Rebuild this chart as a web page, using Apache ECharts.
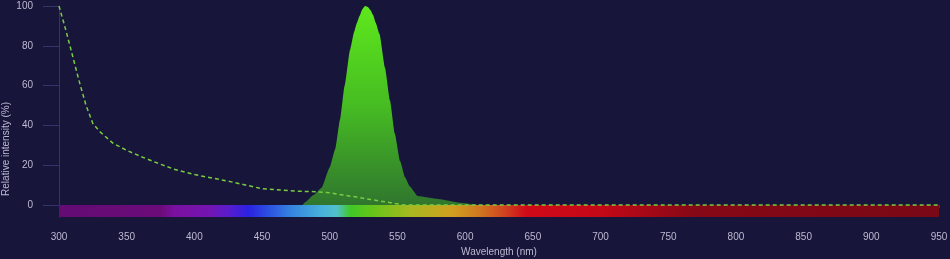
<!DOCTYPE html>
<html>
<head>
<meta charset="utf-8">
<script src="https://cdn.jsdelivr.net/npm/echarts@6/dist/echarts.min.js"></script>
<style>
html,body{margin:0;padding:0;background:#17153a;}
#c{width:950px;height:259px;}
</style>
</head>
<body>
<div id="c"></div>
<script>
// Emission spectrum (filled green peak)
const emissionWl  = [480, 482, 488, 494, 500, 504, 507.6, 511, 515, 518, 520, 522, 524, 526, 528, 530, 532, 534, 536.7, 540.8, 544.5, 548, 552, 555.6, 559, 565, 580, 596, 610];
const emissionVal = [0, 1.5, 5, 8.7, 19, 28, 43, 60, 78, 87, 91.5, 95, 98.3, 100, 99.6, 98, 95.5, 91.5, 86, 69, 52.5, 36, 22, 14, 9.5, 4.5, 3, 1.2, 0];

// Excitation spectrum (dashed line)
const excitationWl  = [300, 305, 310, 315, 320, 325, 330, 340, 350, 360, 375, 385, 400, 425, 450, 475, 490, 500, 510, 520, 530, 545, 555, 950];
const excitationVal = [100, 88, 75, 62, 50, 41, 37, 31, 27.5, 24.5, 20.5, 18, 15.3, 12, 8.2, 7, 6.7, 6.2, 5, 4, 2.8, 1.2, 0, 0];

// Axis ticks
const xTicks = [300, 350, 400, 450, 500, 550, 600, 650, 700, 750, 800, 850, 900, 950];
const yTicks = [0, 20, 40, 60, 80, 100];

// Visible spectrum band: wavelength anchors
const bandWl = [300, 375, 385, 410, 425, 440, 452, 470, 495, 505, 515, 530, 560, 590, 612, 630, 645, 700, 770, 950];
const bandColors = ['#640b74','#6b0b7a','#7a10a0','#7414b0','#5a1ccc','#2a22e0','#2a48e2','#3480e0','#48b4da','#52c0cc','#40c828','#62c61a','#a8b820','#d0a020','#d07420','#d04020','#d00a18','#c40818','#860816','#7a0816'];

const X_MIN = 300, X_MAX = 950;

const pair = (xs, ys) => xs.map((x, i) => [x, ys[i]]);

const chart = echarts.init(document.getElementById('c'), null, {renderer: 'canvas'});
const labelColor = '#bcbad2';
const axisColor = '#35336c';

chart.setOption({
  backgroundColor: '#17153a',
  animation: false,
  grid: {left: 59, right: 11, top: 6, bottom: 42, containLabel: false, outerBoundsMode: 'none'},
  xAxis: {
    type: 'value', min: X_MIN, max: X_MAX, interval: 50,
    name: 'Wavelength (nm)', nameLocation: 'middle', nameGap: 30,
    nameTextStyle: {color: labelColor, fontSize: 10, fontFamily: 'Liberation Sans'},
    axisLine: {show: false},
    axisTick: {show: true, length: 3, lineStyle: {color: axisColor}, customValues: xTicks},
    axisLabel: {color: labelColor, fontSize: 10, fontFamily: 'Liberation Sans', margin: 15, customValues: xTicks},
    splitLine: {show: false}
  },
  yAxis: {
    type: 'value', min: -6, max: 100,
    axisLine: {show: true, lineStyle: {color: axisColor}},
    axisTick: {show: true, length: 16, lineStyle: {color: axisColor}, customValues: yTicks},
    axisLabel: {color: labelColor, fontSize: 10, fontFamily: 'Liberation Sans', margin: 26, customValues: yTicks},
    splitLine: {show: false}
  },
  graphic: [{
    type: 'text', left: 1, top: 102, rotation: Math.PI / 2,
    style: {text: 'Relative intensity (%)', fill: labelColor, fontSize: 10, fontFamily: 'Liberation Sans'}
  }],
  series: [
    {
      name: 'band', type: 'line', data: [], z: 1,
      markArea: {
        silent: true,
        itemStyle: {
          color: {
            type: 'linear', x: 0, y: 0, x2: 1, y2: 0,
            colorStops: bandWl.map((w, i) => ({offset: (w - X_MIN) / (X_MAX - X_MIN), color: bandColors[i]}))
          },
          borderWidth: 0
        },
        data: [[{xAxis: X_MIN, yAxis: -6}, {xAxis: X_MAX, yAxis: 0}]]
      }
    },
    {
      name: 'Emission', type: 'line', data: pair(emissionWl, emissionVal), z: 2,
      showSymbol: false, smooth: 0.15, smoothMonotone: 'x',
      lineStyle: {width: 0},
      areaStyle: {
        opacity: 1,
        color: {type: 'linear', x: 0, y: 0, x2: 0, y2: 1, colorStops: [
          {offset: 0, color: '#5ee81c'},
          {offset: 0.5, color: '#46bc22'},
          {offset: 1, color: '#30762e'}
        ]}
      }
    },
    {
      name: 'Excitation', type: 'line', data: pair(excitationWl, excitationVal), z: 3,
      showSymbol: false,
      lineStyle: {color: '#78cc40', width: 1.5, type: [4, 3]}
    }
  ]
});
</script>
</body>
</html>
